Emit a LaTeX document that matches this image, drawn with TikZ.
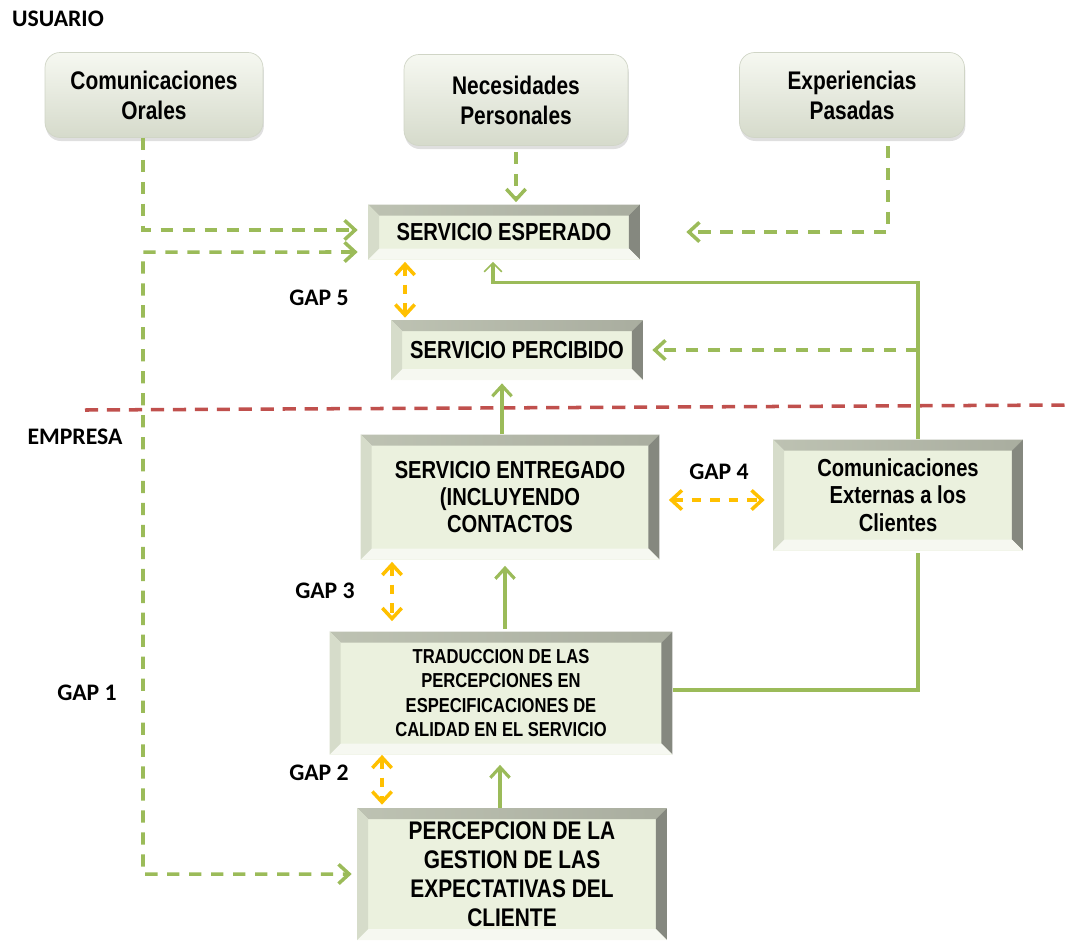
\documentclass[tikz,border=0pt]{standalone}
\usepackage{fontspec}
\setmainfont{Liberation Sans}
\newfontfamily\boxfont[FakeStretch=0.82]{Liberation Sans}
\newfontfamily\gapfont{Carlito}
\usetikzlibrary{arrows.meta,shadows}
\definecolor{boxfill}{HTML}{EBF1DE}
\definecolor{bevdark}{HTML}{85887F}
\definecolor{bevmid}{HTML}{A9AD9F}
\definecolor{bevlight}{HTML}{F6F8F1}
\definecolor{bevside}{HTML}{D6DCCA}
\definecolor{linkgreen}{HTML}{9BBB59}
\definecolor{gapyellow}{HTML}{FFC000}
\definecolor{splitred}{HTML}{C0504D}
\newcommand{\bevw}{0.22cm}
\tikzset{
  roundbox/.style = {rectangle, rounded corners=0.3cm, align=center, inner sep=0pt,
    top color=bevlight, middle color=boxfill, bottom color=boxfill!80!gray,
    draw=boxfill!75!gray, line width=0.4pt,
    drop shadow={opacity=0.25, shadow xshift=0.5pt, shadow yshift=-2pt},
    font={\boxfont\bfseries\fontsize{14.5}{17}\selectfont}},% boite arrondie, usuario
  bevelbox/.style = {rectangle, fill=boxfill, align=center, inner sep=0pt,
    font={\boxfont\bfseries\fontsize{14}{15.5}\selectfont},
    path picture={
      \coordinate (bvne) at (path picture bounding box.north east);
      \coordinate (bvnw) at (path picture bounding box.north west);
      \coordinate (bvse) at (path picture bounding box.south east);
      \coordinate (bvsw) at (path picture bounding box.south west);
      \shade[left color=bevmid!55!bevside, right color=bevmid] (bvnw) -- (bvne)
        -- ([shift={(-\bevw,-\bevw)}]bvne) -- ([shift={(\bevw,-\bevw)}]bvnw) -- cycle;
      \fill[bevdark] (bvne) -- (bvse)
        -- ([shift={(-\bevw,\bevw)}]bvse) -- ([shift={(-\bevw,-\bevw)}]bvne) -- cycle;
      \fill[bevlight] (bvsw) -- (bvse)
        -- ([shift={(-\bevw,\bevw)}]bvse) -- ([shift={(\bevw,\bevw)}]bvsw) -- cycle;
      \fill[bevside] (bvnw) -- (bvsw)
        -- ([shift={(\bevw,\bevw)}]bvsw) -- ([shift={(\bevw,-\bevw)}]bvnw) -- cycle;
    }},% boite biseautee
  gaplabel/.style = {inner sep=0pt, font={\gapfont\bfseries\fontsize{13.5}{15}\selectfont}},
  greendash/.style = {draw=linkgreen, line width=2pt, dash pattern=on 7pt off 5.5pt},
  greenline/.style = {draw=linkgreen, line width=1.8pt},
  gaparrow/.style = {draw=gapyellow, line width=2pt, dash pattern=on 5.5pt off 5pt, <->},
  splitline/.style = {draw=splitred, line width=2pt, dash pattern=on 7.5pt off 5pt}
}
\begin{document}
\begin{tikzpicture}[x=0.02cm, y=-0.02cm, >={Straight Barb[length=6pt,width=11pt]}]
\useasboundingbox (0,0) rectangle (1068,941);

% usuario
\node [roundbox, minimum width=4.36cm, minimum height=1.7cm] (orales) at (154,95)
  {Comunicaciones\\Orales};
\node [roundbox, minimum width=4.48cm, minimum height=1.82cm] (necesidades) at (516,100)
  {Necesidades\\Personales};
\node [roundbox, minimum width=4.5cm, minimum height=1.7cm] (experiencias) at (852,95)
  {Experiencias\\Pasadas};
\node [bevelbox, minimum width=5.44cm, minimum height=1.1cm] (esperado) at (504,232)
  {SERVICIO ESPERADO};
\node [bevelbox, minimum width=5.04cm, minimum height=1.2cm] (percibido) at (517,350)
  {SERVICIO PERCIBIDO};

% empresa
\node [bevelbox, minimum width=5.98cm, minimum height=2.5cm] (entregado) at (510,497)
  {SERVICIO ENTREGADO\\(INCLUYENDO\\CONTACTOS};
\node [bevelbox, minimum width=5cm, minimum height=2.22cm] (externas) at (898,495)
  {Comunicaciones\\Externas a los\\Clientes};
\node [bevelbox, minimum width=6.86cm, minimum height=2.46cm,
  font={\boxfont\bfseries\fontsize{11.5}{14}\selectfont}] (traduccion) at (501,693)
  {TRADUCCION DE LAS\\PERCEPCIONES EN\\ESPECIFICACIONES DE\\CALIDAD EN EL SERVICIO};
\node [bevelbox, minimum width=6.2cm, minimum height=2.64cm,
  font={\boxfont\bfseries\fontsize{14.5}{16.5}\selectfont}] (percepcion) at (512,874)
  {PERCEPCION DE LA\\GESTION DE LAS\\EXPECTATIVAS DEL\\CLIENTE};

% textes
\node [gaplabel] (usuario) at (58,19) {USUARIO};
\node [gaplabel] (empresa) at (75,437) {EMPRESA};
\node [gaplabel] (gap5) at (319,298) {GAP 5};
\node [gaplabel] (gap4) at (719,472) {GAP 4};
\node [gaplabel] (gap3) at (325,591) {GAP 3};
\node [gaplabel] (gap1) at (87,693) {GAP 1};
\node [gaplabel] (gap2) at (319,773) {GAP 2};

% ligne de partage
\coordinate (divl) at (85,410);
\coordinate (divr) at (1065,405);
\draw [splitline] (divl) -- (divr);

% connecteurs en pointilles
\coordinate (railtop) at (143,252);
\draw [greendash, ->, shorten >=0.2cm] ([xshift=-0.22cm]orales.south)
  |- ([yshift=0.04cm]esperado.west);
\draw [greendash, <->, shorten <=0.2cm, shorten >=0.1cm] ([yshift=-0.4cm]esperado.west)
  -- (railtop) |- (percepcion.west);
\draw [greendash, ->, shorten <=0.12cm, shorten >=0.04cm] (necesidades.south)
  -- (necesidades.south |- esperado.north);
\draw [greendash, ->, shorten <=0.16cm, shorten >=0.92cm] ([xshift=0.72cm]experiencias.south)
  |- (esperado.east);
\draw [greendash, ->, shorten >=0.18cm] ([xshift=0.4cm]externas.north |- percibido.east)
  -- (percibido.east);

% connecteurs pleins
\draw [greenline, -{Straight Barb[length=5pt,width=10pt,line width=0.9pt]}]
  ([xshift=0.4cm]externas.north) |- ([xshift=-0.22cm,yshift=-0.46cm]esperado.south)
  -- ([xshift=-0.22cm,yshift=-0.04cm]esperado.south);
\draw [greenline, ->, shorten >=0.06cm] ([xshift=-0.16cm]entregado.north)
  -- ([xshift=-0.16cm]entregado.north |- percibido.south);
\draw [greenline, ->, shorten <=0.04cm, shorten >=0.12cm] ([xshift=0.08cm]traduccion.north)
  -- ([xshift=0.08cm]traduccion.north |- entregado.south);
\draw [greenline, ->, shorten >=0.2cm] ([xshift=-0.24cm]percepcion.north)
  -- ([xshift=-0.24cm]percepcion.north |- traduccion.south);
\draw [greenline] ([yshift=0.06cm]traduccion.east) -| ([xshift=0.4cm,yshift=-0.04cm]externas.south);

% gaps
\draw [gaparrow, shorten <=0.04cm, shorten >=0.04cm] ([xshift=-1.98cm]esperado.south)
  -- ([xshift=-1.98cm]esperado.south |- percibido.north);
\draw [gaparrow, shorten <=0.04cm, shorten >=0.2cm] ([xshift=-2.36cm]entregado.south)
  -- ([xshift=-2.36cm]entregado.south |- traduccion.north);
\draw [gaparrow, shorten >=0.06cm] ([xshift=-2.38cm]traduccion.south)
  -- ([xshift=-2.38cm]traduccion.south |- percepcion.north);
\draw [gaparrow, shorten <=0.18cm, shorten >=0.16cm] ([yshift=-0.06cm]entregado.east)
  -- ([yshift=-0.06cm]entregado.east -| externas.west);
\end{tikzpicture}
\end{document}
